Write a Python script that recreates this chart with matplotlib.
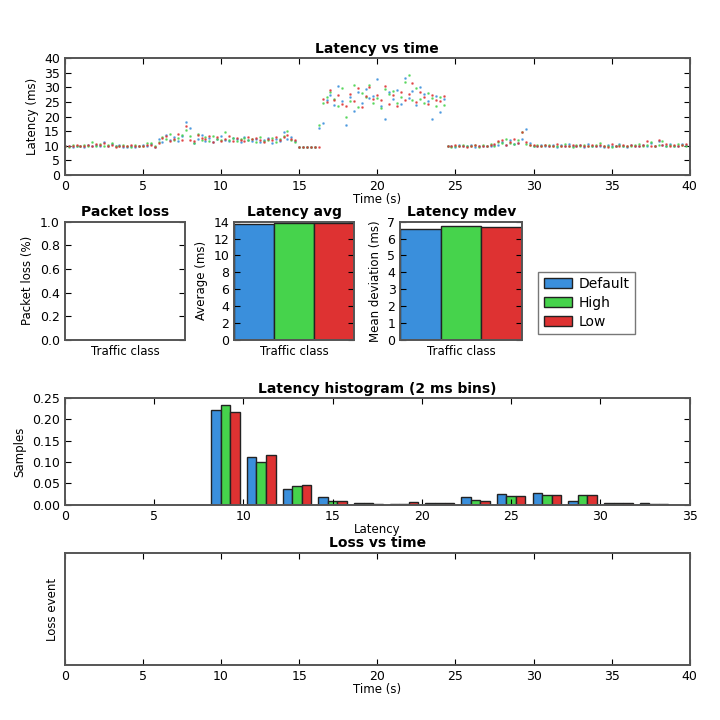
import numpy as np
import matplotlib
matplotlib.use("Agg")
import matplotlib.pyplot as plt

# ---------------- data ----------------
classes = ["Default", "High", "Low"]
colors = ["#3a8fdc", "#46d34c", "#de3232"]

sample_step_s = 0.25
latency_default = [
    9.8, 10.1, 9.6, 9.9, 10.0, 9.7, 10.2, 9.9, 10.4, 9.8, 11.2, 10.1,
    10.6, 9.9, 10.3, 9.7, 9.6, 10.0, 9.5, 9.8, 10.2, 9.9, 10.6, 9.7,
    12.5, 11.3, 13.8, 12.1, 12.9, 11.5, 13.2, 18.2, 16.1, 11.0, 12.4, 13.6,
    11.8, 12.7, 11.2, 12.3, 13.4, 12.0, 11.6, 12.8, 12.2, 11.4, 12.9, 12.1,
    11.7, 12.5, 11.3, 12.0, 12.6, 11.1, 12.2, 11.8, 14.8, 12.4, 13.1, 11.6,
    9.6, 9.5, 9.6, 9.5, 9.6, 16.2, 17.8, 25.6, 27.3, 24.1, 30.4, 25.2,
    17.2, 26.8, 21.9, 28.6, 24.7, 29.5, 26.3, 27.1, 32.8, 23.5, 19.1, 28.4,
    25.9, 29.2, 24.3, 33.1, 26.5, 28.8, 23.9, 30.2, 27.6, 25.4, 19.2, 27.0,
    21.5, 26.2, 9.9, 10.1, 9.7, 10.2, 9.8, 10.0, 10.3, 9.6, 10.1, 9.9,
    10.0, 9.8, 10.4, 10.2, 11.4, 10.2, 12.1, 10.6, 11.0, 12.3, 15.8, 10.8,
    10.1, 9.8, 10.3, 9.9, 10.0, 10.4, 9.7, 10.2, 9.9, 10.6, 10.0, 9.8,
    10.2, 9.7, 10.5, 10.0, 9.8, 10.1, 9.6, 10.3, 10.0, 9.9, 10.7, 9.8,
    9.7, 10.2, 9.9, 10.1, 10.4, 9.8, 11.1, 10.0, 11.6, 10.3, 9.9, 10.5,
    10.1, 9.8, 10.6, 10.2,
]
latency_high = [
    9.9, 9.7, 10.2, 10.0, 9.8, 10.3, 9.9, 11.3, 10.0, 10.5, 9.9, 10.2,
    11.0, 10.1, 9.8, 10.4, 9.9, 9.7, 10.2, 9.8, 10.0, 10.8, 11.0, 9.9,
    11.4, 13.0, 12.2, 14.1, 11.9, 12.6, 13.7, 15.4, 13.2, 10.8, 14.0, 12.1,
    12.9, 11.5, 13.3, 12.4, 12.1, 14.6, 11.9, 12.7, 11.5, 12.3, 12.8, 11.9,
    12.4, 11.2, 12.9, 11.6, 11.9, 12.8, 11.4, 12.3, 13.5, 15.2, 12.0, 11.3,
    9.5, 9.6, 9.5, 9.6, 9.5, 17.0, 24.8, 26.9, 28.3, 26.1, 23.8, 29.7,
    19.8, 25.4, 30.7, 23.2, 28.1, 26.7, 30.9, 24.6, 26.4, 23.1, 29.6, 27.8,
    28.9, 24.8, 26.6, 31.8, 34.2, 25.7, 29.9, 26.1, 24.7, 28.0, 26.4, 23.6,
    26.8, 24.0, 10.0, 9.7, 10.1, 9.9, 10.3, 9.8, 9.9, 10.2, 9.7, 10.4,
    10.1, 10.6, 9.9, 11.2, 10.8, 12.4, 11.1, 10.5, 12.0, 14.9, 10.7, 10.2,
    9.9, 10.2, 10.0, 10.4, 10.3, 9.8, 10.1, 9.9, 10.5, 10.0, 9.7, 10.2,
    9.8, 10.4, 10.1, 9.9, 10.2, 10.8, 9.9, 10.0, 9.7, 10.1, 10.3, 9.9,
    10.0, 9.8, 10.4, 10.6, 9.9, 10.2, 11.4, 10.1, 10.3, 11.8, 10.0, 10.4,
    9.9, 10.5, 10.2, 10.1,
]
latency_low = [
    10.0, 9.8, 9.9, 10.3, 10.1, 9.8, 10.4, 10.0, 10.7, 10.2, 10.9, 9.9,
    10.2, 9.7, 10.0, 10.1, 9.8, 10.3, 9.9, 10.1, 9.9, 10.4, 10.2, 9.6,
    10.9, 12.6, 13.3, 11.7, 12.3, 14.0, 12.1, 16.9, 12.0, 11.6, 13.7, 12.7,
    12.2, 13.5, 11.4, 12.9, 11.8, 12.5, 13.2, 11.7, 12.6, 12.0, 11.6, 13.0,
    12.2, 12.8, 12.0, 11.4, 12.5, 11.9, 13.0, 12.1, 12.9, 13.6, 12.2, 11.9,
    9.6, 9.5, 9.5, 9.6, 9.6, 9.5, 26.0, 25.1, 29.0, 25.7, 27.4, 24.4,
    23.8, 27.9, 25.3, 29.8, 23.4, 27.2, 30.1, 26.0, 27.5, 25.6, 30.6, 24.2,
    27.3, 23.7, 28.5, 25.8, 27.9, 31.7, 25.1, 28.3, 26.9, 24.5, 27.3, 25.6,
    25.2, 27.0, 9.8, 10.0, 10.2, 9.9, 10.0, 9.7, 10.1, 10.3, 9.8, 10.0,
    9.9, 10.2, 10.5, 11.6, 11.9, 10.4, 11.3, 12.5, 10.9, 14.6, 11.2, 10.3,
    10.2, 9.9, 10.1, 10.3, 9.8, 10.0, 10.6, 9.9, 10.1, 9.8, 10.2, 10.0,
    10.3, 9.9, 9.8, 10.4, 10.0, 10.2, 10.1, 9.7, 10.5, 9.8, 10.0, 10.2,
    9.9, 10.4, 9.8, 10.1, 10.2, 11.5, 10.0, 9.9, 12.0, 10.3, 10.6, 9.8,
    10.4, 10.0, 10.2, 10.6,
]

packet_loss = [0.0, 0.0, 0.0]
latency_avg = [13.75, 13.9, 13.9]
latency_mdev = [6.6, 6.75, 6.7]

hist_bin_edges = [0, 2, 4, 6, 8, 10, 12, 14, 16, 18, 20, 22, 24, 26, 28, 30, 32, 34]
hist_default = [0, 0, 0, 0, 0.222, 0.113, 0.036, 0.019, 0.003, 0.001, 0.003, 0.019, 0.024, 0.028, 0.008, 0.003, 0.003]
hist_high    = [0, 0, 0, 0, 0.235, 0.100, 0.043, 0.008, 0.003, 0.001, 0.003, 0.012, 0.021, 0.023, 0.023, 0.003, 0.001]
hist_low     = [0, 0, 0, 0, 0.218, 0.116, 0.047, 0.008, 0.001, 0.007, 0.003, 0.008, 0.021, 0.023, 0.023, 0.003, 0.001]

# ---------------- style ----------------
plt.rcParams.update({
    "font.family": ["DejaVu Sans"],
    "font.size": 9,
    "xtick.direction": "in",
    "ytick.direction": "in",
    "xtick.top": True,
    "ytick.right": True,
    "xtick.major.size": 4,
    "ytick.major.size": 4,
    "axes.edgecolor": "#555555",
    "axes.linewidth": 1.4,
    "axes.titleweight": "bold",
    "axes.titlesize": 10,
    "axes.labelsize": 8.5,
    "xtick.labelsize": 9,
    "ytick.labelsize": 9,
    "axes.titlepad": 4,
})

fig = plt.figure(figsize=(7.2, 7.2), dpi=100)
fig.patch.set_facecolor("white")

# --- Latency vs time ---
ax1 = fig.add_axes([0.090, 0.757, 0.868, 0.162])
series = [latency_default, latency_high, latency_low]
for vals, c, name in zip(series, colors, classes):
    t = np.arange(len(vals)) * sample_step_s
    ax1.plot(t, vals, linestyle="none", marker=".", markersize=1.8, alpha=0.7,
             color=c, label=name)
ax1.set_xlim(0, 40)
ax1.set_ylim(0, 40)
ax1.set_yticks(range(0, 41, 5))
ax1.set_title("Latency vs time")
ax1.set_xlabel("Time (s)", labelpad=0)
ax1.set_ylabel("Latency (ms)")

# --- Packet loss ---
ax2 = fig.add_axes([0.090, 0.528, 0.167, 0.164])
ax2.set_xlim(0, 3)
ax2.set_ylim(0, 1)
ax2.set_yticks(np.arange(0, 1.01, 0.2))
ax2.set_xticks([])
ax2.set_title("Packet loss")
ax2.set_xlabel("Traffic class")
ax2.set_ylabel("Packet loss (%)")

# --- Latency avg ---
ax3 = fig.add_axes([0.325, 0.528, 0.167, 0.164])
bars = ax3.bar(range(3), latency_avg, width=1, align="edge", color=colors,
               edgecolor="#222222", linewidth=1)
ax3.set_xlim(0, 3)
ax3.set_ylim(0, 14)
ax3.set_yticks(range(0, 15, 2))
ax3.set_xticks([])
ax3.set_title("Latency avg")
ax3.set_xlabel("Traffic class")
ax3.set_ylabel("Average (ms)")

# --- Latency mdev ---
ax4 = fig.add_axes([0.556, 0.528, 0.169, 0.164])
ax4.bar(range(3), latency_mdev, width=1, align="edge", color=colors,
        edgecolor="#222222", linewidth=1)
ax4.set_xlim(0, 3)
ax4.set_ylim(0, 7)
ax4.set_yticks(range(0, 8))
ax4.set_xticks([])
ax4.set_title("Latency mdev")
ax4.set_xlabel("Traffic class")
ax4.set_ylabel("Mean deviation (ms)")

fig.legend(bars, classes, loc="lower left", bbox_to_anchor=(0.738, 0.526),
           fontsize=10, frameon=True, fancybox=False, edgecolor="#555555",
           handlelength=2.0, borderpad=0.4, labelspacing=0.35, handletextpad=0.5)

# --- Histogram ---
ax5 = fig.add_axes([0.090, 0.299, 0.868, 0.148])
edges = np.array(hist_bin_edges, dtype=float)
binw = edges[1] - edges[0]
barw = 0.8 * binw / 3
for i, (vals, c) in enumerate(zip([hist_default, hist_high, hist_low], colors)):
    ax5.bar(edges[:-1] + 0.1 * binw + i * barw, vals, width=barw, align="edge",
            color=c, edgecolor="#222222", linewidth=1)
ax5.set_xlim(0, 35)
ax5.set_ylim(0, 0.25)
ax5.set_yticks(np.arange(0, 0.26, 0.05))
ax5.yaxis.set_major_formatter(matplotlib.ticker.FormatStrFormatter("%.2f"))
ax5.set_title("Latency histogram (2 ms bins)")
ax5.set_xlabel("Latency", labelpad=0)
ax5.set_ylabel("Samples")

# --- Loss vs time ---
ax6 = fig.add_axes([0.090, 0.076, 0.868, 0.156])
ax6.set_xlim(0, 40)
ax6.set_xticks(range(0, 41, 5))
ax6.set_yticks([])
ax6.set_title("Loss vs time")
ax6.set_xlabel("Time (s)", labelpad=0)
ax6.set_ylabel("Loss event")

fig.savefig("out.png", dpi=100, facecolor="white")
